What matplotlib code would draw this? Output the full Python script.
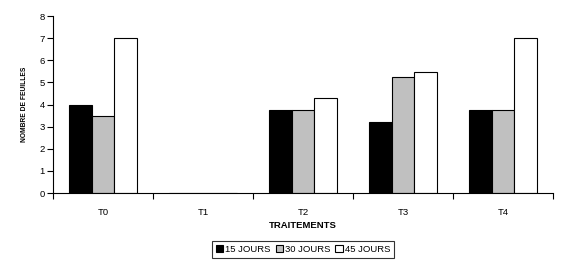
import numpy as np
import matplotlib
matplotlib.use("Agg")
import matplotlib.pyplot as plt

plt.rcParams['font.family'] = ['Liberation Sans', 'DejaVu Sans']

traitements = ['T0', 'T1', 'T2', 'T3', 'T4']
j15 = [4.0, 0, 3.77, 3.23, 3.77]
j30 = [3.5, 0, 3.77, 5.25, 3.77]
j45 = [7.0, 0, 4.3, 5.47, 7.0]
series = ['15 JOURS', '30 JOURS', '45 JOURS']
couleurs = ['black', '#c0c0c0', 'white']

fig = plt.figure(figsize=(5.75, 2.67), dpi=100)
ax = fig.add_axes([0.092, 0.277, 0.870, 0.663])

x = np.arange(len(traitements))
w = 0.225
for i, (vals, lab, c) in enumerate(zip([j15, j30, j45], series, couleurs)):
    ax.bar(x + (i - 1) * w, vals, w, color=c, edgecolor='black', linewidth=0.8, label=lab)

ax.set_xlim(-0.5, len(traitements) - 0.5)
ax.set_ylim(0, 8)
ax.set_yticks(range(0, 9))
ax.set_xticks(np.arange(-0.5, len(traitements)), minor=False)
ax.set_xticklabels([])
ax.set_xticks(x, minor=True)
ax.set_xticklabels(traitements, minor=True)
ax.tick_params(axis='x', which='minor', length=0, pad=11, labelsize=6.8)
ax.tick_params(axis='x', which='major', length=4, direction='out', width=0.8)
ax.tick_params(axis='y', length=4, direction='out', width=0.8, labelsize=6.8, pad=2)
for s in ['top', 'right']:
    ax.spines[s].set_visible(False)
ax.spines['left'].set_linewidth(0.8)
ax.spines['bottom'].set_linewidth(0.8)

ax.set_xlabel('TRAITEMENTS', fontsize=6.8, fontweight='bold', labelpad=3)
ax.set_ylabel('NOMBRE DE FEUILLES', fontsize=4.8, fontweight='bold', labelpad=8)

leg = ax.legend(loc='upper center', bbox_to_anchor=(0.5, -0.245), ncol=3, fontsize=6.8,
                frameon=True, fancybox=False, edgecolor='black', handlelength=0.8,
                handleheight=0.8, handletextpad=0.2, columnspacing=0.5, borderpad=0.4)
leg.get_frame().set_linewidth(0.8)

fig.savefig('out.png', dpi=100)
